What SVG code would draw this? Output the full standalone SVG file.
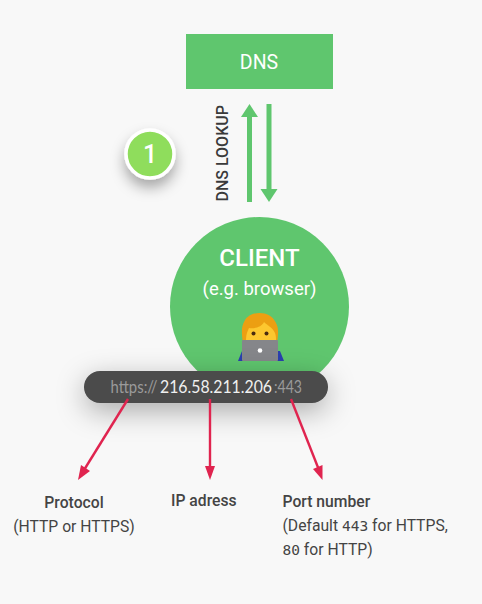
<svg xmlns="http://www.w3.org/2000/svg" width="482" height="604" viewBox="0 0 482 604">
<style>
text{font-family:Roboto,"Liberation Sans",sans-serif}
.lb{font-size:15.700px;font-weight:500;fill:#444}
.ln{font-size:15.700px;fill:#444}
.m{font-family:"DejaVu Sans Mono","Liberation Mono",monospace;font-size:14.500px}
.u{font-family:Lato,Roboto,sans-serif;font-size:16.500px}
.g{fill:none;stroke:#5fc66e;stroke-width:5}
.r{fill:none;stroke:#e0244f;stroke-width:2.4}
</style>
<defs>
<filter id="s1" x="-30%" y="-100%" width="160%" height="350%"><feDropShadow dx="0" dy="8" stdDeviation="14" flood-color="#000" flood-opacity=".32"/></filter>
<filter id="s2" x="-60%" y="-60%" width="220%" height="220%"><feDropShadow dx="0" dy="8" stdDeviation="7" flood-color="#000" flood-opacity=".33"/></filter>
</defs>
<rect width="482" height="604" fill="#f8f8f8"/>
<g id="dns"><rect x="186" y="34" width="147" height="55" fill="#5fc66e"/><text x="259" y="69" font-size="19.500" fill="#fff" text-anchor="middle">DNS</text></g>
<g id="lookup-label"><text transform="translate(228 201.500) rotate(-90)" font-size="16" font-weight="500" fill="#3a3a3a">DNS LOOKUP</text></g>
<g id="step-1"><circle cx="150" cy="154" r="24" fill="#8fdd5b" stroke="#fff" stroke-width="3.500" filter="url(#s2)"/><text x="150" y="163" font-size="25" font-weight="500" fill="#fff" text-anchor="middle">1</text></g>
<g id="client"><circle cx="259.500" cy="306.500" r="89.500" fill="#5fc66e"/><text x="259.500" y="266" font-size="24" font-weight="500" fill="#fff" text-anchor="middle">CLIENT</text><text x="259.500" y="295" font-size="18.500" fill="#fff" text-anchor="middle">(e.g. browser)</text>
<g id="emoji">
<path d="M238 361l4-10h38l4 10z" fill="#2a3fae"/>
<path d="M242.500 340c-1-9-1-14 2-19 3-6 10-8 15-8 7 0 13 3 16 9 3 5 3 10 2 18z" fill="#ec9f12"/>
<path d="M246 341c0-6 1-9 3-13 5 1 13-1 15-6 3 3 9 6 11 11 1 3 1 5 1 8z" fill="#fdc72f"/>
<circle cx="253.500" cy="333.500" r="2" fill="#4a2c10"/><circle cx="266.500" cy="333.500" r="2" fill="#4a2c10"/>
<rect x="242" y="340" width="36" height="21" rx="1" fill="#85868a"/>
<circle cx="260" cy="350.500" r="2.300" fill="#fff"/>
</g></g>
<g id="url-bar"><rect x="84" y="371" width="244" height="32" rx="16" fill="#4b4b4b" filter="url(#s1)"/><text class="u" x="110.500" y="393" fill="#9a9a9a" textLength="47" lengthAdjust="spacingAndGlyphs">https://</text><text class="u" x="160" y="393" fill="#f0f0f0" textLength="112" lengthAdjust="spacingAndGlyphs">216.58.211.206</text><text class="u" x="274" y="393" fill="#9a9a9a" textLength="28" lengthAdjust="spacingAndGlyphs">:443</text></g>
<g id="connectors">
<path class="g" d="M249.500 202V115"/><path fill="#5fc66e" d="M249.500 104l8.500 13h-17z"/>
<path class="g" d="M269 104v88"/><path fill="#5fc66e" d="M269 202l-8.500-13h17z"/>
<path class="r" d="M128 399L84 470"/><path fill="#e0244f" d="M78 480l3-15 9 6z"/>
<path class="r" d="M210 399V470"/><path fill="#e0244f" d="M210 480l-5-14h10z"/>
<path class="r" d="M291 399L319 470"/><path fill="#e0244f" d="M322.500 480l-9.500-11 9.500-4z"/>
</g>
<g id="protocol"><text class="lb" x="74" y="508" text-anchor="middle">Protocol</text><text class="ln" x="74" y="532" text-anchor="middle">(HTTP or HTTPS)</text></g>
<g id="ip"><text class="lb" x="171" y="506">IP adress</text></g>
<g id="port"><text class="lb" x="282.500" y="507">Port number</text><text class="ln" x="282.500" y="531">(Default <tspan class="m">443</tspan> for HTTPS,</text><text class="ln" x="282.500" y="555"><tspan class="m">80</tspan> for HTTP)</text></g>
</svg>
